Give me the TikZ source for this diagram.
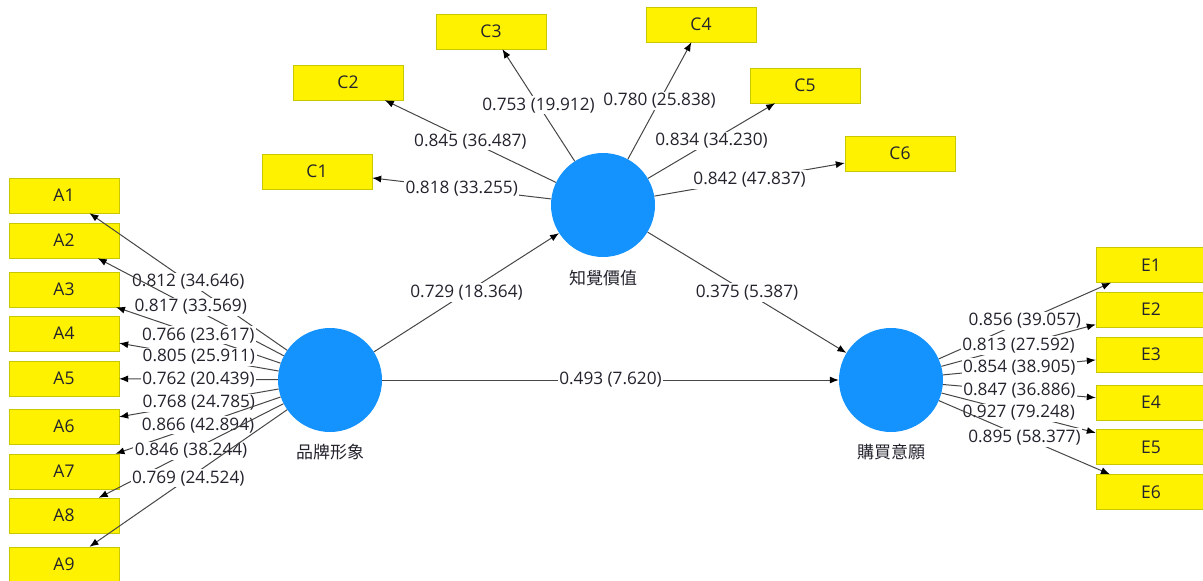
\documentclass[tikz,border=0pt]{standalone}
\usepackage{fontspec}
\setmainfont{Open Sans}
\newfontfamily\cjk{Noto Sans CJK TC}
\usetikzlibrary{arrows.meta}
\definecolor{cblue}{RGB}{20,147,255}
\definecolor{boxline}{RGB}{200,200,0}
\definecolor{edgec}{RGB}{70,70,70}
\definecolor{txt}{RGB}{35,35,45}
\tikzset{
  ind/.style={draw=boxline, fill=yellow, minimum width=110pt, minimum height=35pt, inner sep=0pt, text=txt, font=\fontsize{17.5}{20}\selectfont},
  lat/.style={circle, fill=cblue, draw=none, minimum size=104pt, inner sep=0pt},
  latlab/.style={text=txt, font=\cjk\fontsize{17}{20}\selectfont},
  edge/.style={draw=edgec, line width=1pt, -{Latex[length=9pt,width=7pt,fill=black,color=black]}},
  wt/.style={midway, fill=white, inner sep=1.5pt, text=txt, font=\fontsize{17.2}{20}\selectfont}
}
\begin{document}
\begin{tikzpicture}[x=1pt,y=-1pt]
\useasboundingbox (0,0) rectangle (1203,581);
\clip (0,0) rectangle (1203,581);
% latent
\node[lat] (BI) at (330,380) {};
\node[lat] (PV) at (603,205) {};
\node[lat] (PI) at (891,380) {};
\node[latlab] (BIl) at (330,452) {品牌形象};
\node[latlab] (PVl) at (603,278) {知覺價值};
\node[latlab] (PIl) at (891,452) {購買意願};
% indicators A
\node[ind] (A1) at (64,195.5) {A1};
\node[ind] (A2) at (64,240.5) {A2};
\node[ind] (A3) at (64,289.5) {A3};
\node[ind] (A4) at (64,333.5) {A4};
\node[ind] (A5) at (64,378.5) {A5};
\node[ind] (A6) at (64,426.5) {A6};
\node[ind] (A7) at (64,471.5) {A7};
\node[ind] (A8) at (64,515.5) {A8};
\node[ind] (A9) at (64,564.5) {A9};
% indicators C
\node[ind] (C1) at (317,171.5) {C1};
\node[ind] (C2) at (348,82.5) {C2};
\node[ind] (C3) at (491,31.5) {C3};
\node[ind] (C4) at (701,24.5) {C4};
\node[ind] (C5) at (805,85.5) {C5};
\node[ind] (C6) at (900,153.5) {C6};
% indicators E
\node[ind] (E1) at (1151,265) {E1};
\node[ind] (E2) at (1151,309.5) {E2};
\node[ind] (E3) at (1151,354.5) {E3};
\node[ind] (E4) at (1151,402.5) {E4};
\node[ind] (E5) at (1151,447) {E5};
\node[ind] (E6) at (1151,492) {E6};
% A edges
\draw[edge] (BI) -- node[wt]{0.812 (34.646)} (A1);
\draw[edge] (BI) -- node[wt]{0.817 (33.569)} (A2);
\draw[edge] (BI) -- node[wt]{0.766 (23.617)} (A3);
\draw[edge] (BI) -- node[wt]{0.805 (25.911)} (A4);
\draw[edge] (BI) -- node[wt]{0.762 (20.439)} (A5);
\draw[edge] (BI) -- node[wt]{0.768 (24.785)} (A6);
\draw[edge] (BI) -- node[wt]{0.866 (42.894)} (A7);
\draw[edge] (BI) -- node[wt]{0.846 (38.244)} (A8);
\draw[edge] (BI) -- node[wt]{0.769 (24.524)} (A9);
% C edges
\draw[edge] (PV) -- node[wt]{0.818 (33.255)} (C1);
\draw[edge] (PV) -- node[wt]{0.845 (36.487)} (C2);
\draw[edge] (PV) -- node[wt]{0.753 (19.912)} (C3);
\draw[edge] (PV) -- node[wt]{0.780 (25.838)} (C4);
\draw[edge] (PV) -- node[wt]{0.834 (34.230)} (C5);
\draw[edge] (PV) -- node[wt]{0.842 (47.837)} (C6);
% E edges
\draw[edge] (PI) -- node[wt]{0.856 (39.057)} (E1);
\draw[edge] (PI) -- node[wt]{0.813 (27.592)} (E2);
\draw[edge] (PI) -- node[wt]{0.854 (38.905)} (E3);
\draw[edge] (PI) -- node[wt]{0.847 (36.886)} (E4);
\draw[edge] (PI) -- node[wt]{0.927 (79.248)} (E5);
\draw[edge] (PI) -- node[wt]{0.895 (58.377)} (E6);
% structural
\draw[edge] (BI) -- node[wt]{0.729 (18.364)} (PV);
\draw[edge] (PV) -- node[wt]{0.375 (5.387)} (PI);
\draw[edge] (BI) -- node[wt]{0.493 (7.620)} (PI);
\end{tikzpicture}
\end{document}
